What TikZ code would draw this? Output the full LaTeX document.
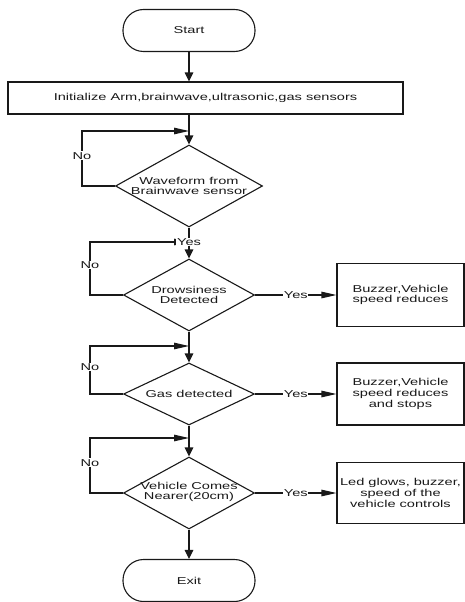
\documentclass[tikz,border=0pt]{standalone}
\usepackage{fontspec}
\setmainfont{Liberation Sans}[FakeStretch=1.46]
\usetikzlibrary{shapes.geometric,arrows.meta}
\begin{document}
\begin{tikzpicture}[x=1pt,y=-1pt,
  every node/.style={font=\fontsize{10}{10.8}\selectfont, text=black!90},
  ln/.style={line width=1.1pt, draw=black!90},
  term/.style={ln, rectangle, rounded corners=20.5pt, minimum width=132pt, minimum height=42pt, inner sep=0pt},
  proc/.style={ln, rectangle, inner sep=0pt, align=center},
  dec/.style={ln, diamond, inner sep=0pt},
  txt/.style={align=center, inner sep=0pt},
  lab/.style={fill=white, inner sep=0.8pt},
  vtip/.style={-{Triangle[length=9pt,width=8.5pt]}},
  htip/.style={-{Triangle[length=15pt,width=6.5pt]}}
]
\useasboundingbox (0,0) rectangle (465,602);

% nodes
\node[term] (start) at (189,30.5) {Start};
\node[proc, minimum width=395pt, minimum height=32pt] (init) at (205.5,98) {Initialize Arm,brainwave,ultrasonic,gas sensors};
\node[dec, minimum width=147pt, minimum height=82pt] (d1) at (189,186) {};
\node[txt] (d1t) at (d1.center) {Waveform from\\Brainwave sensor};
\node[dec, minimum width=131pt, minimum height=72pt] (d2) at (189,295) {};
\node[txt] (d2t) at (d2.center) {Drowsiness\\Detected};
\node[dec, minimum width=131pt, minimum height=62pt] (d3) at (189,394) {};
\node[txt] (d3t) at (d3.center) {Gas detected};
\node[dec, minimum width=131pt, minimum height=72pt] (d4) at (189,493) {};
\node[txt] (d4t) at (189,492) {Vehicle Comes\\Nearer(20cm)};
\node[term] (exit) at (189,580.5) {Exit};

\node[proc, minimum width=127pt, minimum height=63pt] (b1) at (400.5,295) {Buzzer,Vehicle\\speed reduces};
\node[proc, minimum width=127pt, minimum height=62pt] (b2) at (400.5,394) {Buzzer,Vehicle\\speed reduces\\and stops};
\node[proc, minimum width=127pt, minimum height=61pt] (b3) at (400.5,493) {Led glows, buzzer,\\speed of the\\vehicle controls};

% junction points on the main line
\coordinate (j1) at (189,131);
\coordinate (j2) at (189,242);
\coordinate (j3) at (189,346);
\coordinate (j4) at (189,438);

% main flow
\draw[ln,vtip] (start.south) -- (start.south |- init.north);
\draw[ln,vtip] (d1.north |- init.south) -- (d1.north);

% loops (No)
\draw[ln,htip] (d1.west) -- (82,186) -- node[lab,pos=0.55]{No} (82,131) -- (j1);
\draw[ln,htip] (d2.west) -- (90,295) -- node[lab,pos=0.57]{No} (90,242) -- (j2);
\draw[ln,htip] (d3.west) -- (90,394) -- node[lab,pos=0.56]{No} (90,346) -- (j3);
\draw[ln,htip] (d4.west) -- (90,493) -- node[lab,pos=0.55]{No} (90,438) -- (j4);

\draw[ln,vtip] (d1.south) -- node[lab,pos=0.47]{Yes} (d2.north);
\draw[ln,vtip] (d2.south) -- (d3.north);
\draw[ln,vtip] (d3.south) -- (d4.north);
\draw[ln,vtip] (d4.south) -- (exit.north);

% Yes branches
\draw[ln,htip] (d2.east) -- node[lab]{Yes} (b1.west);
\draw[ln,htip] (d3.east) -- node[lab]{Yes} (b2.west);
\draw[ln,htip] (d4.east) -- node[lab]{Yes} (b3.west);
\end{tikzpicture}
\end{document}
